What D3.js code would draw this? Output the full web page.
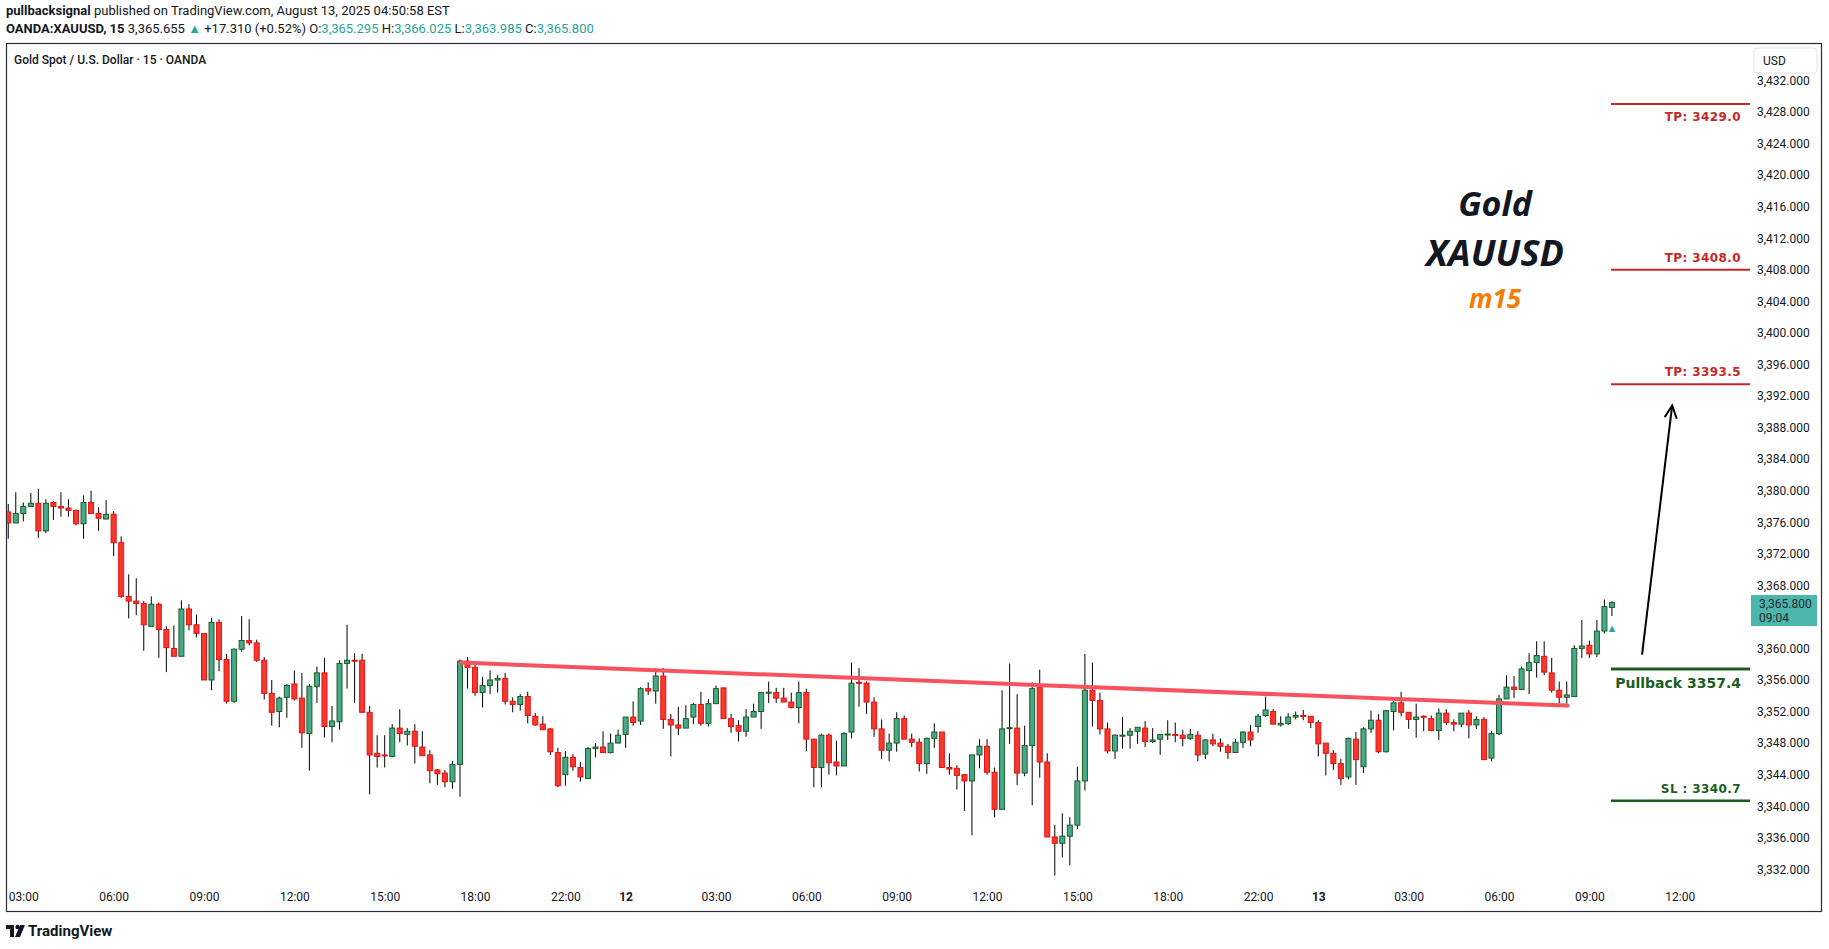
<!DOCTYPE html>
<html>
<head>
<meta charset="utf-8">
<script src="https://cdn.jsdelivr.net/npm/d3@7"></script>
<style>
  body { margin: 0; background: #fff; }
  svg { display: block; font-family: Roboto, "Noto Sans", sans-serif; }
</style>
</head>
<body>
<svg id="chart" width="1829" height="949"></svg>
<script>
// candle index of the first bar (03:00 on the 11th = 0)
const firstIndex = -2;
// [open, high, low, close] per 15m candle
const candles = [
[3377.3,3378.3,3373.9,3375.9],[3375.9,3379.8,3375.9,3377.1],[3377.1,3378.5,3376.1,3378.0],[3378.0,3379.7,3378.0,3378.4],
[3378.4,3380.2,3374.0,3374.9],[3374.9,3378.9,3374.6,3378.4],[3378.5,3378.7,3376.3,3378.0],[3378.0,3379.8,3376.7,3377.8],
[3377.8,3378.9,3376.7,3377.5],[3377.5,3377.6,3375.6,3375.8],[3375.8,3379.4,3373.9,3378.5],[3378.5,3380.0,3377.1,3377.1],
[3377.1,3377.9,3374.9,3376.5],[3376.4,3378.8,3376.4,3377.0],[3377.0,3377.4,3371.7,3373.4],[3373.4,3374.2,3366.4,3366.6],
[3366.6,3369.4,3363.8,3366.0],[3366.0,3368.9,3364.2,3365.7],[3365.7,3366.0,3359.7,3363.0],[3362.8,3366.6,3362.8,3365.6],
[3365.6,3365.8,3358.8,3362.4],[3362.4,3362.8,3357.0,3360.1],[3360.0,3362.9,3359.0,3359.0],[3359.0,3366.1,3359.0,3365.0],
[3365.0,3365.6,3362.3,3363.0],[3363.0,3364.3,3361.4,3361.9],[3361.9,3361.9,3356.0,3356.0],[3356.0,3363.9,3354.7,3363.3],
[3363.3,3363.7,3357.1,3358.6],[3358.6,3359.3,3353.0,3353.3],[3353.3,3360.0,3353.1,3359.9],[3359.9,3364.1,3359.6,3361.0],
[3361.0,3363.7,3360.4,3360.7],[3360.7,3361.1,3358.3,3358.5],[3358.5,3358.9,3353.5,3354.3],[3354.3,3356.0,3350.2,3351.9],
[3352.0,3353.9,3350.0,3353.7],[3353.8,3355.5,3351.2,3355.3],[3355.5,3357.2,3353.4,3353.6],[3353.7,3356.9,3347.4,3349.3],
[3349.2,3355.5,3344.5,3355.2],[3355.2,3357.7,3353.1,3356.9],[3356.9,3358.8,3348.7,3350.1],[3350.1,3352.7,3348.1,3350.8],
[3350.7,3358.5,3349.7,3358.1],[3358.1,3363.0,3354.9,3358.5],[3358.5,3359.4,3353.1,3358.45],[3358.5,3359.3,3351.9,3351.9],
[3351.9,3352.7,3341.5,3346.5],[3346.7,3349.0,3344.9,3346.3],[3346.5,3349.0,3344.9,3346.4],[3346.3,3350.4,3346.2,3349.9],
[3349.9,3352.3,3348.1,3349.2],[3349.1,3349.9,3347.7,3349.5],[3349.5,3350.4,3345.4,3347.6],[3347.5,3349.5,3346.4,3346.4],
[3346.5,3347.1,3342.9,3344.5],[3344.6,3344.7,3342.7,3344.1],[3344.2,3344.6,3342.4,3343.1],[3343.1,3345.7,3342.2,3345.3],
[3345.3,3358.6,3341.2,3358.4],[3358.4,3358.9,3354.9,3357.6],[3357.6,3357.9,3354.0,3354.4],[3354.4,3356.4,3352.5,3355.3],
[3355.3,3357.2,3354.2,3356.0],[3356.0,3356.6,3354.4,3356.2],[3356.2,3356.9,3352.9,3353.3],[3353.3,3353.8,3351.9,3352.9],
[3352.9,3354.2,3352.1,3353.9],[3353.9,3354.5,3350.5,3351.5],[3351.4,3351.8,3350.2,3350.3],[3350.4,3351.4,3349.7,3349.7],
[3349.8,3349.9,3346.5,3346.9],[3346.8,3347.4,3342.4,3342.6],[3344.0,3347.0,3342.6,3346.2],[3346.2,3346.6,3344.5,3345.0],
[3344.9,3345.6,3343.1,3343.7],[3343.5,3347.5,3343.5,3347.3],[3347.3,3348.0,3346.2,3347.5],[3347.5,3349.5,3346.8,3346.8],
[3346.8,3349.2,3346.7,3348.0],[3348.0,3349.7,3348.0,3349.0],[3349.1,3351.3,3347.4,3351.3],[3351.3,3353.3,3350.2,3350.6],
[3350.8,3355.1,3350.3,3354.9],[3354.9,3355.7,3354.1,3354.6],[3354.6,3357.5,3353.0,3356.5],[3356.5,3357.5,3349.8,3351.0],
[3351.0,3351.7,3346.3,3350.3],[3350.3,3352.6,3349.0,3349.9],[3349.9,3352.8,3349.9,3351.1],[3351.3,3353.1,3350.4,3352.9],
[3352.9,3354.5,3350.2,3350.5],[3350.5,3353.6,3350.1,3353.0],[3353.0,3355.3,3353.0,3354.9],[3355.0,3355.0,3351.1,3351.1],
[3351.1,3351.7,3349.3,3350.1],[3350.2,3350.9,3348.2,3349.5],[3349.5,3352.3,3348.8,3351.3],[3351.3,3353.0,3351.3,3352.0],
[3352.0,3354.5,3349.8,3354.4],[3354.4,3355.8,3353.1,3354.45],[3354.4,3355.0,3353.1,3353.7],[3353.7,3355.0,3353.2,3353.2],
[3353.2,3354.4,3352.4,3352.5],[3352.5,3355.8,3350.5,3354.4],[3354.4,3354.9,3347.0,3348.5],[3348.5,3348.5,3342.4,3344.9],
[3344.9,3349.2,3342.4,3349.0],[3349.0,3349.2,3344.0,3345.5],[3345.6,3348.3,3343.9,3345.1],[3345.1,3349.4,3345.1,3349.2],
[3349.4,3358.2,3348.6,3355.6],[3355.7,3357.5,3352.6,3355.6],[3355.6,3355.8,3351.7,3353.2],[3353.2,3353.8,3348.8,3349.8],
[3349.8,3351.0,3346.0,3347.1],[3347.1,3349.2,3345.7,3348.0],[3348.0,3351.9,3346.9,3351.1],[3351.1,3351.5,3348.5,3348.5],
[3348.5,3349.2,3347.5,3348.1],[3348.1,3348.6,3344.4,3345.4],[3345.4,3348.7,3344.1,3348.6],[3348.6,3350.5,3347.4,3349.4],
[3349.4,3349.4,3344.9,3344.9],[3344.9,3346.7,3344.0,3344.7],[3344.8,3345.2,3342.1,3343.9],[3344.0,3344.0,3339.4,3343.2],
[3343.2,3346.5,3336.3,3346.5],[3346.5,3348.5,3344.8,3347.6],[3347.6,3348.5,3344.0,3344.3],[3344.3,3344.9,3338.6,3339.6],
[3339.6,3354.7,3339.6,3349.8],[3349.9,3358.1,3347.9,3349.95],[3349.9,3354.2,3342.7,3344.2],[3344.2,3350.2,3343.8,3347.7],
[3347.7,3355.7,3340.1,3354.9],[3355.1,3357.3,3343.6,3345.6],[3345.6,3346.7,3336.1,3336.1],[3336.1,3337.6,3331.2,3335.3],
[3335.3,3339.1,3333.5,3336.2],[3336.2,3338.6,3332.5,3337.6],[3337.6,3345.0,3337.1,3343.2],[3343.2,3359.3,3342.0,3354.7],
[3354.7,3358.2,3350.1,3353.4],[3353.4,3354.4,3349.1,3349.8],[3349.8,3350.6,3346.7,3347.0],[3347.0,3349.1,3346.0,3349.0],
[3348.9,3351.3,3347.3,3349.0],[3349.0,3349.9,3347.3,3349.5],[3349.5,3350.0,3347.9,3350.0],[3349.9,3350.8,3347.5,3348.2],
[3348.2,3349.9,3348.0,3348.4],[3348.5,3349.1,3346.5,3349.1],[3349.1,3350.9,3348.4,3349.15],[3349.1,3350.6,3348.1,3349.0],
[3349.0,3349.7,3347.6,3348.6],[3348.6,3349.8,3348.4,3349.1],[3349.0,3349.5,3345.7,3346.5],[3346.6,3348.5,3346.0,3348.4],
[3348.4,3349.2,3347.6,3347.9],[3348.0,3348.6,3346.9,3347.6],[3347.6,3347.9,3346.0,3346.8],[3346.8,3348.5,3346.8,3348.1],
[3348.1,3349.5,3347.4,3349.4],[3349.4,3350.3,3347.6,3348.4],[3350.1,3351.7,3349.3,3351.4],[3351.5,3353.9,3351.3,3352.2],
[3352.0,3352.3,3350.4,3350.4],[3350.3,3351.4,3350.1,3350.5],[3350.5,3351.8,3350.3,3351.3],[3351.3,3352.0,3351.0,3351.5],
[3351.5,3352.2,3350.9,3351.45],[3351.4,3351.4,3349.9,3350.6],[3350.6,3350.9,3346.3,3347.9],[3348.0,3348.0,3343.9,3346.7],
[3346.7,3347.1,3344.6,3345.4],[3345.4,3346.0,3342.7,3343.5],[3343.7,3348.7,3343.4,3348.6],[3348.5,3349.4,3342.7,3345.9],
[3345.0,3350.0,3344.2,3349.8],[3349.8,3352.1,3349.3,3350.9],[3350.9,3351.7,3346.7,3346.9],[3346.9,3352.2,3346.8,3352.1],
[3352.0,3353.5,3349.6,3353.1],[3353.1,3354.5,3351.4,3351.9],[3351.9,3351.9,3349.8,3351.0],[3351.0,3353.0,3348.7,3351.3],
[3351.4,3351.5,3349.5,3351.3],[3351.1,3351.5,3349.5,3349.6],[3349.6,3352.4,3348.4,3351.8],[3351.8,3352.3,3350.3,3350.6],
[3350.6,3351.0,3349.5,3350.4],[3350.4,3351.8,3350.0,3351.8],[3351.8,3352.2,3348.6,3350.3],[3350.3,3351.4,3349.8,3351.0],
[3351.0,3351.3,3345.9,3345.9],[3346.1,3349.5,3345.7,3349.2],[3349.2,3354.1,3349.0,3353.6],[3353.6,3356.6,3353.6,3355.1],
[3355.1,3356.5,3353.7,3354.8],[3354.8,3357.7,3354.8,3357.4],[3357.2,3359.4,3354.2,3358.2],[3358.2,3360.9,3356.3,3359.1],
[3359.0,3360.9,3356.6,3357.0],[3356.9,3358.8,3354.4,3354.7],[3354.7,3355.8,3353.0,3353.8],[3353.8,3355.8,3353.0,3354.1],
[3353.9,3360.4,3353.9,3360.0],[3360.0,3363.6,3358.8,3360.3],[3360.4,3361.0,3358.8,3359.3],[3359.3,3363.6,3358.9,3362.2],
[3362.2,3366.2,3361.9,3365.3],[3365.2,3366.0,3364.1,3365.8]
];

const timeTickIdx = [0,12,24,36,48,60,72,80,92,104,116,128,140,152,164,172,184,196,208,220];
const timeTickLabels = ["03:00","06:00","09:00","12:00","15:00","18:00","22:00","12","03:00","06:00","09:00","12:00","15:00","18:00","22:00","13","03:00","06:00","09:00","12:00"];
const boldTicks = ["12","13"];
const priceTicks = d3.range(3332, 3433, 4);

const trendline = [{i: 58.2, p: 3358.2}, {i: 205.1, p: 3352.75}];
const tpLevels = [3429.0, 3408.0, 3393.5];
const pullbackLevel = 3357.4;
const slLevel = 3340.7;
const arrowFrom = {i: 215.0, p: 3359.2};
const arrowTo = {i: 219.0, p: 3390.8};
const lastPrice = 3365.8;

const svg = d3.select("#chart");
const x = d3.scaleLinear().domain([0, 196]).range([23.3, 1499]);
const y = d3.scaleLinear().domain([3428, 3332]).range([112, 869.3]);

// header
const head = svg.append("g").attr("font-size", 13).attr("fill", "#131722");
const t1 = head.append("text").attr("x", 6).attr("y", 15);
t1.append("tspan").attr("font-weight", "bold").text("pullbacksignal");
t1.append("tspan").text(" published on TradingView.com, August 13, 2025 04:50:58 EST");
const t2 = head.append("text").attr("x", 6).attr("y", 33);
t2.append("tspan").attr("font-weight", "bold").text("OANDA:XAUUSD, 15");
t2.append("tspan").text("  3,365.655 ");
t2.append("tspan").attr("fill", "#26a69a").text("▲");
t2.append("tspan").text(" +17.310 (+0.52%)  O:");
t2.append("tspan").attr("fill", "#26a69a").text("3,365.295");
t2.append("tspan").text(" H:");
t2.append("tspan").attr("fill", "#26a69a").text("3,366.025");
t2.append("tspan").text(" L:");
t2.append("tspan").attr("fill", "#26a69a").text("3,363.985");
t2.append("tspan").text(" C:");
t2.append("tspan").attr("fill", "#26a69a").text("3,365.800");

// frame
svg.append("rect").attr("x", 6.5).attr("y", 43.5).attr("width", 1815).attr("height", 868)
  .attr("fill", "none").attr("stroke", "#2a2e39").attr("stroke-width", 1.2);
svg.append("text").attr("x", 14).attr("y", 64).attr("font-size", 12).attr("font-weight", 500)
  .attr("fill", "#131722").text("Gold Spot / U.S. Dollar · 15 · OANDA");

svg.append("defs").append("clipPath").attr("id", "plot")
  .append("rect").attr("x", 7).attr("y", 44).attr("width", 1745).attr("height", 840);

// candles
const bars = svg.append("g").attr("clip-path", "url(#plot)")
  .selectAll("g").data(candles).join("g")
  .attr("transform", (d, k) => `translate(${x(firstIndex + k)},0)`);
bars.append("line")
  .attr("y1", d => y(d[1])).attr("y2", d => y(d[2]))
  .attr("stroke", "#000").attr("stroke-width", 1);
bars.append("rect")
  .attr("x", -2.5).attr("width", 5)
  .attr("y", d => y(Math.max(d[0], d[3])))
  .attr("height", d => Math.max(1, Math.abs(y(d[0]) - y(d[3]))))
  .attr("fill", d => d[3] < d[0] ? "#f23a30" : "#47a88e")
  .attr("stroke", d => d[3] < d[0] ? "#e81010" : "#1b5e20")
  .attr("stroke-width", 1);

// trendline
svg.append("line")
  .attr("x1", x(trendline[0].i)).attr("y1", y(trendline[0].p))
  .attr("x2", x(trendline[1].i)).attr("y2", y(trendline[1].p))
  .attr("stroke", "#f7525f").attr("stroke-width", 4).attr("stroke-linecap", "round");

// last candle marker
svg.append("text").attr("x", x(211)).attr("y", y(3362.1)).attr("text-anchor", "middle")
  .attr("font-size", 11).attr("font-weight", "bold").attr("fill", "#26a69a").text("▲");

// levels
const lx0 = 1611, lx1 = 1750, lxText = 1741;
const lv = svg.append("g").attr("font-family", "'DejaVu Sans', Verdana, sans-serif").attr("font-weight", "bold");
tpLevels.forEach((p, k) => {
  lv.append("line").attr("x1", lx0).attr("x2", lx1).attr("y1", y(p)).attr("y2", y(p))
    .attr("stroke", "#c62828").attr("stroke-width", 2);
  lv.append("text").attr("x", lxText).attr("y", k === 0 ? y(p) + 17 : y(p) - 8)
    .attr("text-anchor", "end").attr("font-size", 12).attr("letter-spacing", 0.4).attr("fill", "#c62828")
    .text("TP: " + p.toFixed(1));
});
lv.append("line").attr("x1", lx0).attr("x2", lx1).attr("y1", y(pullbackLevel)).attr("y2", y(pullbackLevel))
  .attr("stroke", "#1b5e20").attr("stroke-width", 3);
lv.append("text").attr("x", lxText).attr("y", y(pullbackLevel) + 19).attr("text-anchor", "end")
  .attr("font-size", 14).attr("fill", "#1b5e20").text("Pullback " + pullbackLevel.toFixed(1));
lv.append("line").attr("x1", lx0).attr("x2", lx1).attr("y1", y(slLevel)).attr("y2", y(slLevel))
  .attr("stroke", "#1b5e20").attr("stroke-width", 2.5);
lv.append("text").attr("x", lxText).attr("y", y(slLevel) - 8).attr("text-anchor", "end")
  .attr("font-size", 12).attr("letter-spacing", 0.4).attr("fill", "#1b5e20").text("SL : " + slLevel.toFixed(1));

// arrow
const ax0 = x(arrowFrom.i), ay0 = y(arrowFrom.p), ax1 = x(arrowTo.i), ay1 = y(arrowTo.p);
svg.append("line").attr("x1", ax0).attr("y1", ay0).attr("x2", ax1).attr("y2", ay1)
  .attr("stroke", "#000").attr("stroke-width", 2);
const ang = Math.atan2(ay1 - ay0, ax1 - ax0);
const head1 = [ax1 - 14 * Math.cos(ang - 0.45), ay1 - 14 * Math.sin(ang - 0.45)];
const head2 = [ax1 - 14 * Math.cos(ang + 0.45), ay1 - 14 * Math.sin(ang + 0.45)];
svg.append("path").attr("d", d3.line()([head1, [ax1, ay1], head2]))
  .attr("fill", "none").attr("stroke", "#000").attr("stroke-width", 2);

// title
const title = svg.append("g").attr("text-anchor", "middle").attr("font-family", "'Noto Sans', sans-serif")
  .attr("font-style", "italic").attr("font-weight", "bold");
title.append("text").attr("x", 1495).attr("y", 216).attr("font-size", 34).attr("fill", "#131722").text("Gold");
title.append("text").attr("x", 1495).attr("y", 266).attr("font-size", 36).attr("fill", "#131722").text("XAUUSD");
title.append("text").attr("x", 1495).attr("y", 308).attr("font-size", 26).attr("fill", "#f57c00").text("m15");

// price axis (labels under the last-price tag are hidden, as on the chart)
const tagTop = 595, tagBottom = 626;
const yAxis = svg.append("g").attr("transform", "translate(1757,0)")
  .call(d3.axisRight(y).tickValues(priceTicks.filter(v => y(v) < tagTop - 6 || y(v) > tagBottom + 6))
    .tickSize(0).tickPadding(0).tickFormat(d3.format(",.3f")));
yAxis.select(".domain").remove();
yAxis.selectAll("text").attr("font-size", 12).attr("fill", "#131722").attr("font-family", "Roboto, sans-serif");

// USD box
svg.append("rect").attr("x", 1754).attr("y", 48).attr("width", 63).attr("height", 25).attr("rx", 3)
  .attr("fill", "#fff").attr("stroke", "#e0e3eb");
svg.append("text").attr("x", 1763).attr("y", 65).attr("font-size", 12).attr("fill", "#131722").text("USD");

// last price tag
svg.append("rect").attr("x", 1751).attr("y", tagTop).attr("width", 66).attr("height", tagBottom - tagTop).attr("fill", "#4db6ac");
svg.append("text").attr("x", 1759).attr("y", 608).attr("font-size", 12).attr("fill", "#1e2a30").text(d3.format(",.3f")(lastPrice));
svg.append("text").attr("x", 1759).attr("y", 622).attr("font-size", 12).attr("fill", "#1e2a30").text("09:04");

// time axis
const xAxis = svg.append("g").attr("transform", "translate(0,888)")
  .call(d3.axisBottom(x).tickValues(timeTickIdx).tickSize(0).tickPadding(4)
    .tickFormat((d, k) => timeTickLabels[k]));
xAxis.select(".domain").remove();
xAxis.selectAll("text").attr("font-size", 12).attr("fill", "#131722").attr("font-family", "Roboto, sans-serif")
  .attr("font-weight", (d, k) => boldTicks.includes(timeTickLabels[k]) ? "bold" : null);

// footer logo
const logo = svg.append("g").attr("transform", "translate(6,923)");
logo.append("path").attr("d", "M0 2 H8 V14 H4 V6 H0 Z").attr("fill", "#131722");
logo.append("circle").attr("cx", 11.5).attr("cy", 4).attr("r", 2.2).attr("fill", "#131722");
logo.append("path").attr("d", "M14 2 H19 L14 14 H9 Z").attr("fill", "#131722");
svg.append("text").attr("x", 28).attr("y", 936).attr("font-size", 15).attr("font-weight", "bold")
  .attr("fill", "#131722").text("TradingView");
</script>
</body>
</html>
